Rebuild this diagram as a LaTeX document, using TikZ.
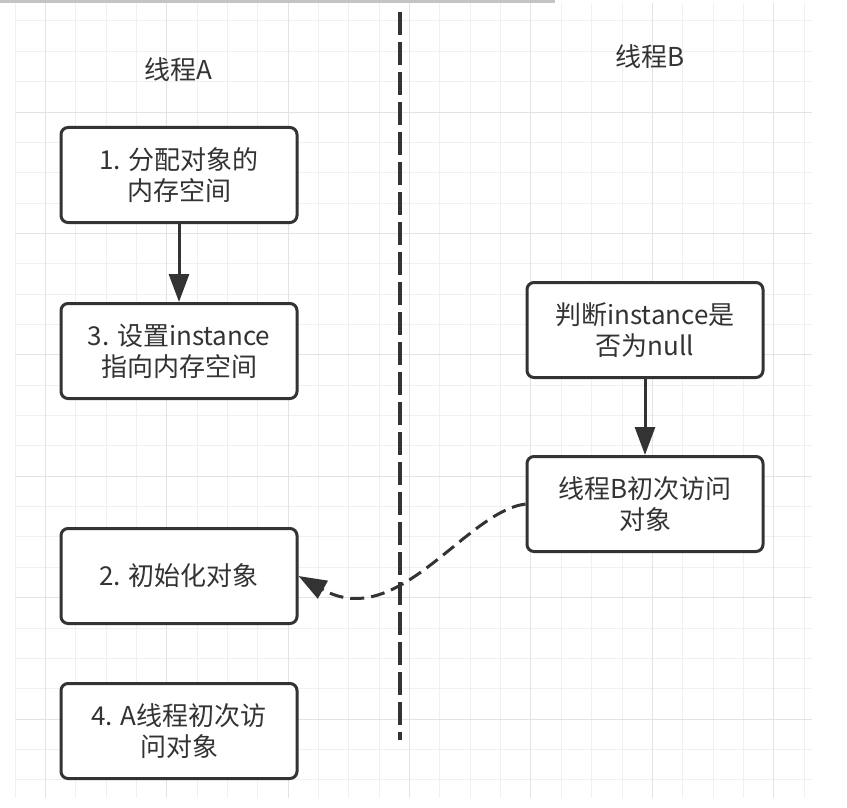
\documentclass[tikz,border=0pt]{standalone}
\usepackage{fontspec}
\setmainfont{Noto Sans CJK SC}
\usetikzlibrary{positioning,arrows.meta}
\definecolor{ink}{HTML}{333333}
\definecolor{gridminor}{HTML}{F0F0F0}
\definecolor{gridmajor}{HTML}{E3E3E3}
\definecolor{topbar}{HTML}{C4C4C4}

\begin{document}
\begin{tikzpicture}[x=1pt, y=-1pt,
  box/.style={draw=ink, line width=3pt, rounded corners=7pt, fill=white,
    minimum width=236pt, minimum height=95pt, inner sep=0pt, align=center,
    text=ink, font=\fontsize{26}{31}\selectfont},
  title/.style={text=ink, font=\fontsize{26}{31}\selectfont},
  flow/.style={draw=ink, line width=3pt, -{Triangle[length=28pt,width=20pt]}}]
  \useasboundingbox (0,0) rectangle (847,808);
  % background grid
  \fill[topbar] (0,0) rectangle (555,3);
  \foreach \i in {0,...,26}
    \draw[gridminor, line width=1pt] (15+30.35*\i,3) -- (15+30.35*\i,798);
  \foreach \j in {0,...,25}
    \draw[gridminor, line width=1pt] (15,21+30.35*\j) -- (812,21+30.35*\j);
  \foreach \i in {1,5,...,25}
    \draw[gridmajor, line width=1pt] (15+30.35*\i,3) -- (15+30.35*\i,798);
  \foreach \j in {3,7,...,23}
    \draw[gridmajor, line width=1pt] (15,21+30.35*\j) -- (812,21+30.35*\j);

  % threads
  \node[title] (ta) at (178,70) {线程A};
  \node[title] (tb) at (650,57) {线程B};
  \coordinate (top) at (400,12);
  \coordinate (bot) at (400,740);
  \draw[ink, line width=3.2pt, dash pattern=on 23pt off 7pt] (top) -- (bot);

  \node[box] (a1) at (179,175) {1. 分配对象的\\内存空间};
  \node[box, below=78pt of a1] (a3) {3. 设置instance\\指向内存空间};
  \node[box, below=127pt of a3] (a2) {2. 初始化对象};
  \node[box, below=57pt of a2] (a4) {4. A线程初次访\\问对象};
  \node[box] (b1) at (645,330) {判断instance是\\否为null};
  \node[box, below=76pt of b1] (b2) {线程B初次访问\\对象};

  \draw[flow] (a1) -- (a3);
  \draw[flow] (b1) -- (b2);
  \draw[flow, dash pattern=on 14pt off 7pt]
    (b2.west) .. controls (465,512) and (398,632) .. (a2.east);
\end{tikzpicture}
\end{document}
